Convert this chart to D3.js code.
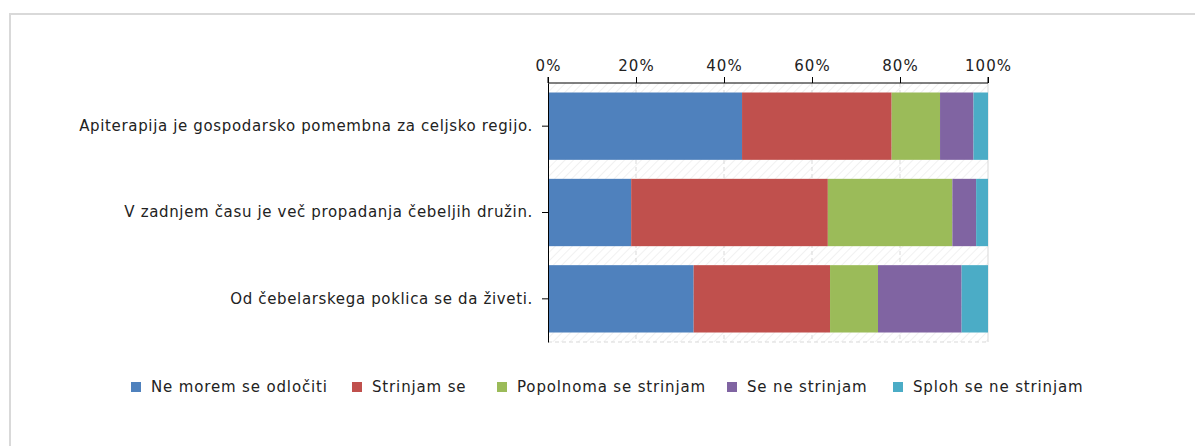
<!DOCTYPE html>
<html>
<head>
<meta charset="utf-8">
<script src="https://cdn.jsdelivr.net/npm/d3@7"></script>
<style>
  body { margin: 0; background: #fff; }
  svg { display: block; font-family: "DejaVu Sans", Verdana, sans-serif; }
</style>
</head>
<body>
<svg id="chart"></svg>
<script>
// chart data
const categories = [
    "Apiterapija je gospodarsko pomembna za celjsko regijo.",
    "V zadnjem času je več propadanja čebeljih družin.",
    "Od čebelarskega poklica se da živeti."
];
const seriesNames = ["Ne morem se odločiti", "Strinjam se", "Popolnoma se strinjam", "Se ne strinjam", "Sploh se ne strinjam"];
const neMorem = [44.1, 18.9, 33.1];
const strinjam = [34.0, 44.7, 31.0];
const popolnoma = [11.0, 28.3, 10.9];
const seNe = [7.6, 5.4, 19.0];
const sploh = [3.3, 2.7, 6.0];
const tickValues = [0, 20, 40, 60, 80, 100];

const colors = ["#4f81bd", "#c0504d", "#9bbb59", "#8064a2", "#4bacc6"];

const W = 1195, H = 446;
const margin = {top: 83, left: 548, right: 207, bottom: 104};
const width = W - margin.left - margin.right,
    height = H - margin.top - margin.bottom;

const svg = d3.select("#chart").attr("width", W).attr("height", H);

// outer frame (only top and left edges show)
svg.append("path")
    .attr("d", "M10," + (H + 5) + "V14H" + (W + 5))
    .attr("fill", "none")
    .attr("stroke", "#d9d9d9")
    .attr("stroke-width", 2);

// hatch pattern for plot background
const defs = svg.append("defs");
const pat = defs.append("pattern")
    .attr("id", "hatch")
    .attr("patternUnits", "userSpaceOnUse")
    .attr("width", 6).attr("height", 6)
    .attr("patternTransform", "rotate(45)");
pat.append("line")
    .attr("x1", 0).attr("y1", 0).attr("x2", 0).attr("y2", 6)
    .attr("stroke", "#ececec").attr("stroke-width", 1.5);

const g = svg.append("g")
    .attr("transform", "translate(" + margin.left + "," + margin.top + ")");

const x = d3.scaleLinear().domain([0, 100]).range([0, width]);
const y = d3.scaleBand().domain(categories).range([0, height])
    .paddingInner(0.22).paddingOuter(0.11);

g.append("rect")
    .attr("width", width).attr("height", height)
    .attr("fill", "url(#hatch)");

// grid lines
g.append("g").selectAll("line")
    .data(tickValues.slice(1, -1))
    .join("line")
    .attr("x1", d => x(d)).attr("x2", d => x(d))
    .attr("y1", 0).attr("y2", height)
    .attr("stroke", "#d9d9d9")
    .attr("stroke-dasharray", "4,3");
g.append("line")
    .attr("x1", 0).attr("x2", width)
    .attr("y1", height).attr("y2", height)
    .attr("stroke", "#d9d9d9").attr("stroke-dasharray", "4,3");
g.append("line")
    .attr("x1", width).attr("x2", width)
    .attr("y1", 0).attr("y2", height)
    .attr("stroke", "#d9d9d9");

// stacked bars
const rows = categories.map((c, i) => ({
    cat: c,
    [seriesNames[0]]: neMorem[i],
    [seriesNames[1]]: strinjam[i],
    [seriesNames[2]]: popolnoma[i],
    [seriesNames[3]]: seNe[i],
    [seriesNames[4]]: sploh[i]
}));
const stacked = d3.stack().keys(seriesNames)
    .offset(d3.stackOffsetExpand)(rows);

g.append("g").selectAll("g")
    .data(stacked)
    .join("g")
    .attr("fill", (d, i) => colors[i])
    .selectAll("rect")
    .data(d => d)
    .join("rect")
    .attr("x", d => x(d[0] * 100))
    .attr("width", d => x(d[1] * 100) - x(d[0] * 100))
    .attr("y", d => y(d.data.cat))
    .attr("height", y.bandwidth());

// axes
const xAxis = g.append("g")
    .call(d3.axisTop(x).tickValues(tickValues).tickFormat(d => d + "%").tickSize(6).tickPadding(6));
const yAxis = g.append("g")
    .call(d3.axisLeft(y).tickSize(6).tickPadding(9).tickSizeOuter(0));
[xAxis, yAxis].forEach(a => {
    a.selectAll("text")
        .attr("font-family", "DejaVu Sans")
        .attr("font-size", 15)
        .attr("letter-spacing", "0.65px")
        .attr("fill", "#222");
    a.select(".domain").attr("stroke", "#000");
    a.selectAll(".tick line").attr("stroke", "#000");
});
xAxis.selectAll("text").attr("letter-spacing", "1px");
xAxis.select(".domain").attr("d", "M0,-6V0H" + width + "V-6");

// legend
const legendX = [131, 352, 497, 727, 893];
const legend = svg.append("g").attr("transform", "translate(0,387)");
const item = legend.selectAll("g")
    .data(seriesNames)
    .join("g")
    .attr("transform", (d, i) => "translate(" + legendX[i] + ",0)");
item.append("rect")
    .attr("y", -5).attr("width", 10).attr("height", 10)
    .attr("fill", (d, i) => colors[i]);
item.append("text")
    .attr("x", 20).attr("y", 0)
    .attr("dy", "0.35em")
    .attr("font-size", 15)
    .attr("letter-spacing", "0.85px")
    .attr("fill", "#222")
    .text(d => d);
</script>
</body>
</html>
